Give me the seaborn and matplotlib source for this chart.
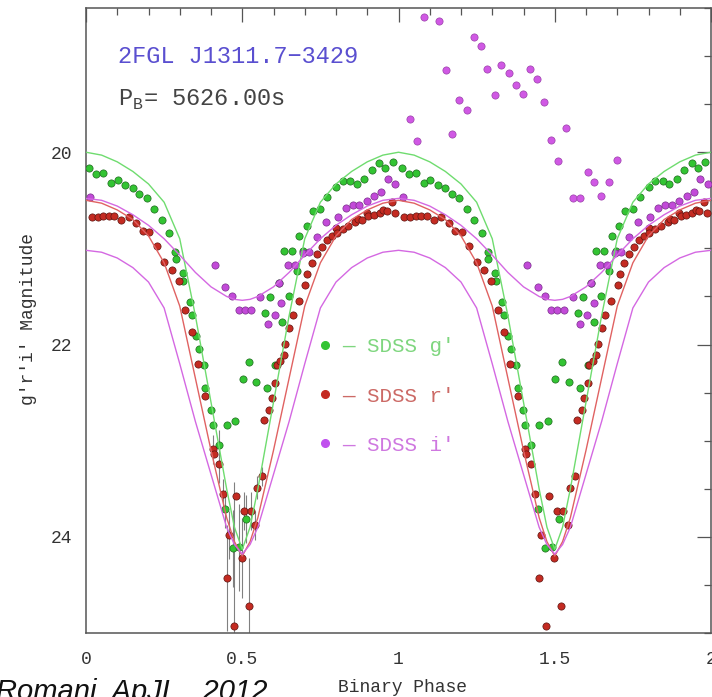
import numpy as np
import pandas as pd
import seaborn as sns
import matplotlib.pyplot as plt
from matplotlib.ticker import MultipleLocator
from matplotlib.lines import Line2D

# folded light curve, one cycle (phase 0-1); it is drawn twice
g_phase = [0.011, 0.032, 0.055, 0.080, 0.101, 0.126, 0.149, 0.170, 0.194, 0.218,
           0.242, 0.266, 0.285, 0.287, 0.309, 0.311, 0.332, 0.339, 0.351, 0.360,
           0.376, 0.381, 0.399, 0.406, 0.424, 0.445, 0.470, 0.491, 0.450, 0.477,
           0.502, 0.523, 0.544, 0.512, 0.580, 0.605, 0.573, 0.589, 0.616, 0.626,
           0.632, 0.648, 0.658, 0.674, 0.683, 0.695, 0.706, 0.725, 0.749, 0.772,
           0.800, 0.821, 0.845, 0.866, 0.890, 0.914, 0.938, 0.958, 0.981]
g_mag = [20.16, 20.23, 20.22, 20.32, 20.29, 20.34, 20.37, 20.43, 20.48, 20.59,
         20.70, 20.84, 21.04, 21.11, 21.26, 21.34, 21.56, 21.69, 21.91, 22.05,
         22.21, 22.45, 22.68, 22.84, 23.04, 23.71, 24.12, 24.11, 22.84, 22.79,
         22.36, 22.18, 22.39, 23.81, 22.45, 22.21, 21.67, 21.51, 21.36, 21.77,
         21.03, 21.50, 21.03, 21.24, 20.87, 21.03, 20.77, 20.61, 20.59, 20.47,
         20.36, 20.30, 20.30, 20.33, 20.28, 20.18, 20.11, 20.16, 20.10]

r_phase = [0.019, 0.037, 0.055, 0.072, 0.090, 0.112, 0.136, 0.160, 0.181, 0.202,
           0.226, 0.250, 0.275, 0.296, 0.317, 0.339, 0.357, 0.381, 0.406, 0.408,
           0.424, 0.438, 0.450, 0.456, 0.472, 0.480, 0.498, 0.506, 0.520, 0.527,
           0.541, 0.548, 0.564, 0.570, 0.587, 0.594, 0.605, 0.610, 0.621, 0.632,
           0.637, 0.651, 0.661, 0.680, 0.701, 0.708, 0.722, 0.738, 0.754, 0.770,
           0.786, 0.800, 0.802, 0.821, 0.839, 0.861, 0.870, 0.882, 0.898, 0.903,
           0.921, 0.940, 0.951, 0.962, 0.978, 0.988]
r_mag = [20.67, 20.67, 20.66, 20.66, 20.66, 20.70, 20.67, 20.74, 20.82, 20.83,
         20.98, 21.14, 21.22, 21.34, 21.64, 21.87, 22.20, 22.53, 23.09, 23.14,
         23.24, 23.55, 24.43, 23.98, 24.93, 23.57, 24.22, 23.73, 24.72, 23.73,
         23.88, 23.49, 23.37, 22.78, 22.68, 22.56, 22.40, 22.21, 22.17, 22.11,
         21.99, 21.83, 21.69, 21.55, 21.38, 21.27, 21.15, 21.06, 20.99, 20.91,
         20.87, 20.79, 20.84, 20.80, 20.77, 20.73, 20.69, 20.70, 20.63, 20.66,
         20.65, 20.63, 20.60, 20.61, 20.52, 20.63]

i_phase = [0.013, 0.412, 0.446, 0.468, 0.488, 0.508, 0.528, 0.558, 0.582, 0.604,
           0.617, 0.625, 0.646, 0.668, 0.694, 0.713, 0.739, 0.767, 0.806, 0.831,
           0.854, 0.875, 0.899, 0.923, 0.945, 0.966, 0.990]
i_mag = [20.47, 21.17, 21.40, 21.49, 21.64, 21.64, 21.64, 21.51, 21.79, 21.69,
         21.36, 21.57, 21.17, 21.17, 21.05, 21.04, 20.88, 20.73, 20.67, 20.58,
         20.55, 20.55, 20.51, 20.45, 20.41, 20.28, 20.33]

# i' points that only appear in the second cycle
i_extra_phase = [1.038, 1.059, 1.083, 1.130, 1.152, 1.171, 1.194, 1.218, 1.240, 1.263,
                 1.284, 1.308, 1.329, 1.354, 1.375, 1.399, 1.421, 1.444, 1.465, 1.489,
                 1.510, 1.536, 1.559, 1.581, 1.605, 1.626, 1.647, 1.674, 1.698]
i_extra_mag = [19.65, 19.88, 18.59, 18.63, 19.14, 19.81, 19.46, 19.56, 18.80, 18.89,
               19.13, 19.40, 19.09, 19.18, 19.30, 19.39, 19.13, 19.24, 19.48, 19.87,
               20.09, 19.75, 20.48, 20.48, 20.21, 20.31, 20.45, 20.31, 20.08]

# error bars (first cycle only)
eb_phase = [0.406, 0.424, 0.438, 0.450, 0.456, 0.472, 0.498, 0.506, 0.520, 0.527,
            0.541, 0.548, 0.564, 0.424, 0.445, 0.470, 0.491, 0.512]
eb_mag = [23.09, 23.24, 23.55, 24.43, 23.98, 24.93, 24.22, 23.73, 24.72, 23.73,
          23.88, 23.49, 23.37, 23.04, 23.71, 24.12, 24.11, 23.81]
eb_err = [0.15, 0.20, 0.15, 0.55, 0.25, 1.50, 0.42, 0.20, 0.50, 0.20,
          0.15, 0.12, 0.10, 0.15, 0.20, 0.40, 0.45, 0.25]

# model light curves, one cycle
model_phase = [0, .05, .10, .15, .20, .25, .30, .35, .40, .45, .475, .5,
               .525, .55, .60, .65, .70, .75, .80, .85, .90, .95, 1.0]
model_g = [20.00, 20.03, 20.10, 20.20, 20.33, 20.52, 20.90, 21.70, 22.60, 23.50, 23.90, 24.13,
           23.90, 23.50, 22.60, 21.70, 20.90, 20.52, 20.33, 20.20, 20.10, 20.03, 20.00]
model_r = [20.50, 20.53, 20.60, 20.70, 20.87, 21.15, 21.60, 22.35, 23.10, 23.80, 24.05, 24.20,
           24.05, 23.80, 23.10, 22.35, 21.60, 21.15, 20.87, 20.70, 20.60, 20.53, 20.50]
model_i_low = [20.48, 20.50, 20.56, 20.65, 20.76, 20.90, 21.07, 21.25, 21.40, 21.50, 21.53, 21.54,
               21.53, 21.50, 21.40, 21.25, 21.07, 20.90, 20.76, 20.65, 20.56, 20.50, 20.48]
model_i_high = [21.02, 21.04, 21.10, 21.20, 21.35, 21.62, 22.20, 22.80, 23.35, 23.90, 24.08, 24.18,
                24.08, 23.90, 23.35, 22.80, 22.20, 21.62, 21.35, 21.20, 21.10, 21.04, 21.02]

c_g, c_r, c_i = '#33c433', '#c42b22', '#c24ad8'
c_g_line, c_r_line, c_i_line = '#6fdc6f', '#e06262', '#d468e2'


def two_cycles(phase, mag):
    phase = np.asarray(phase)
    return np.concatenate([phase, phase + 1]), np.concatenate([mag, mag])


sns.set_theme(style='white')
plt.rcParams['font.family'] = ['Liberation Mono', 'DejaVu Sans Mono']
plt.rcParams['mathtext.fontset'] = 'custom'
plt.rcParams['mathtext.rm'] = 'Liberation Mono'

fig = plt.figure(figsize=(7.12, 6.97), dpi=100)
ax = fig.add_axes([86 / 712, 1 - 633 / 697, 625 / 712, 625 / 697])

ax.errorbar(eb_phase, eb_mag, yerr=eb_err, fmt='none', ecolor='#808080',
            elinewidth=0.8, capsize=0, zorder=2)

for ph, mg, col, edge in [(g_phase, g_mag, c_g, '#1f6a1f'),
                          (r_phase, r_mag, c_r, '#5c1410'),
                          (i_phase, i_mag, c_i, '#7a2f8c')]:
    x, y = two_cycles(ph, mg)
    sns.scatterplot(x=x, y=y, color=col, edgecolor=edge, linewidth=0.5, s=27,
                    ax=ax, zorder=3, legend=False)
sns.scatterplot(x=i_extra_phase, y=i_extra_mag, color='#d058e4', edgecolor='#9a40aa',
                linewidth=0.5, s=27, ax=ax, zorder=3, legend=False)

for mg, col in [(model_g, c_g_line), (model_r, c_r_line),
                (model_i_low, c_i_line), (model_i_high, c_i_line)]:
    x, y = two_cycles(model_phase, mg)
    sns.lineplot(x=x, y=y, color=col, linewidth=1.0, estimator=None, sort=False,
                 ax=ax, zorder=4)

ax.set_xlim(0, 2)
ax.set_ylim(25, 18.5)
ax.xaxis.set_major_locator(MultipleLocator(0.5))
ax.xaxis.set_minor_locator(MultipleLocator(0.1))
ax.yaxis.set_major_locator(MultipleLocator(2))
ax.yaxis.set_minor_locator(MultipleLocator(0.5))
ax.xaxis.set_major_formatter(plt.FuncFormatter(lambda v, p: '%g' % v))
ax.tick_params(which='both', direction='in', top=True, right=True,
               color='#555555', width=0.9)
ax.tick_params(which='major', length=10, labelsize=13, labelcolor='#333333')
ax.tick_params(axis='x', which='major', pad=13)
ax.tick_params(axis='y', which='major', pad=10)
ax.tick_params(which='minor', length=5)
for sp in ax.spines.values():
    sp.set_color('#555555')
    sp.set_linewidth(1.1)

ax.set_xlabel('Binary Phase', fontsize=13, color='#333333')
ax.set_ylabel("g'r'i' Magnitude", fontsize=13, color='#333333')
ax.xaxis.set_label_coords(0.507, -0.074)
ax.yaxis.set_label_coords(-0.078, 0.502)

ax.text(0.051, 0.923, '2FGL J1311.7\u22123429', transform=ax.transAxes,
        fontsize=17, color='#5a4fd0', va='center', ha='left')
ax.text(0.051, 0.853, r'P$_\mathrm{B}$= 5626.00s', transform=ax.transAxes,
        fontsize=17, color='#444444', va='center', ha='left')

handles = [Line2D([], [], ls='none', marker='o', markersize=5.5, color=c)
           for c in (c_g, c_r, '#c050ee')]
ax.legend(handles, ["\u2014 SDSS g'", "\u2014 SDSS r'", "\u2014 SDSS i'"],
          labelcolor=['#7fd67f', '#cc6a66', '#cf78e0'],
          loc='upper left', bbox_to_anchor=(0.373, 0.473), frameon=False,
          borderaxespad=0, borderpad=0, handlelength=0.6, handletextpad=0.5,
          labelspacing=1.45, prop={'family': 'Liberation Mono', 'size': 15})

fig.text(-0.006, -0.004, 'Romani, ApJL., 2012', fontsize=21, style='italic',
         family='Liberation Sans', color='#111111', va='baseline', ha='left')

fig.savefig('out.png', dpi=100)
